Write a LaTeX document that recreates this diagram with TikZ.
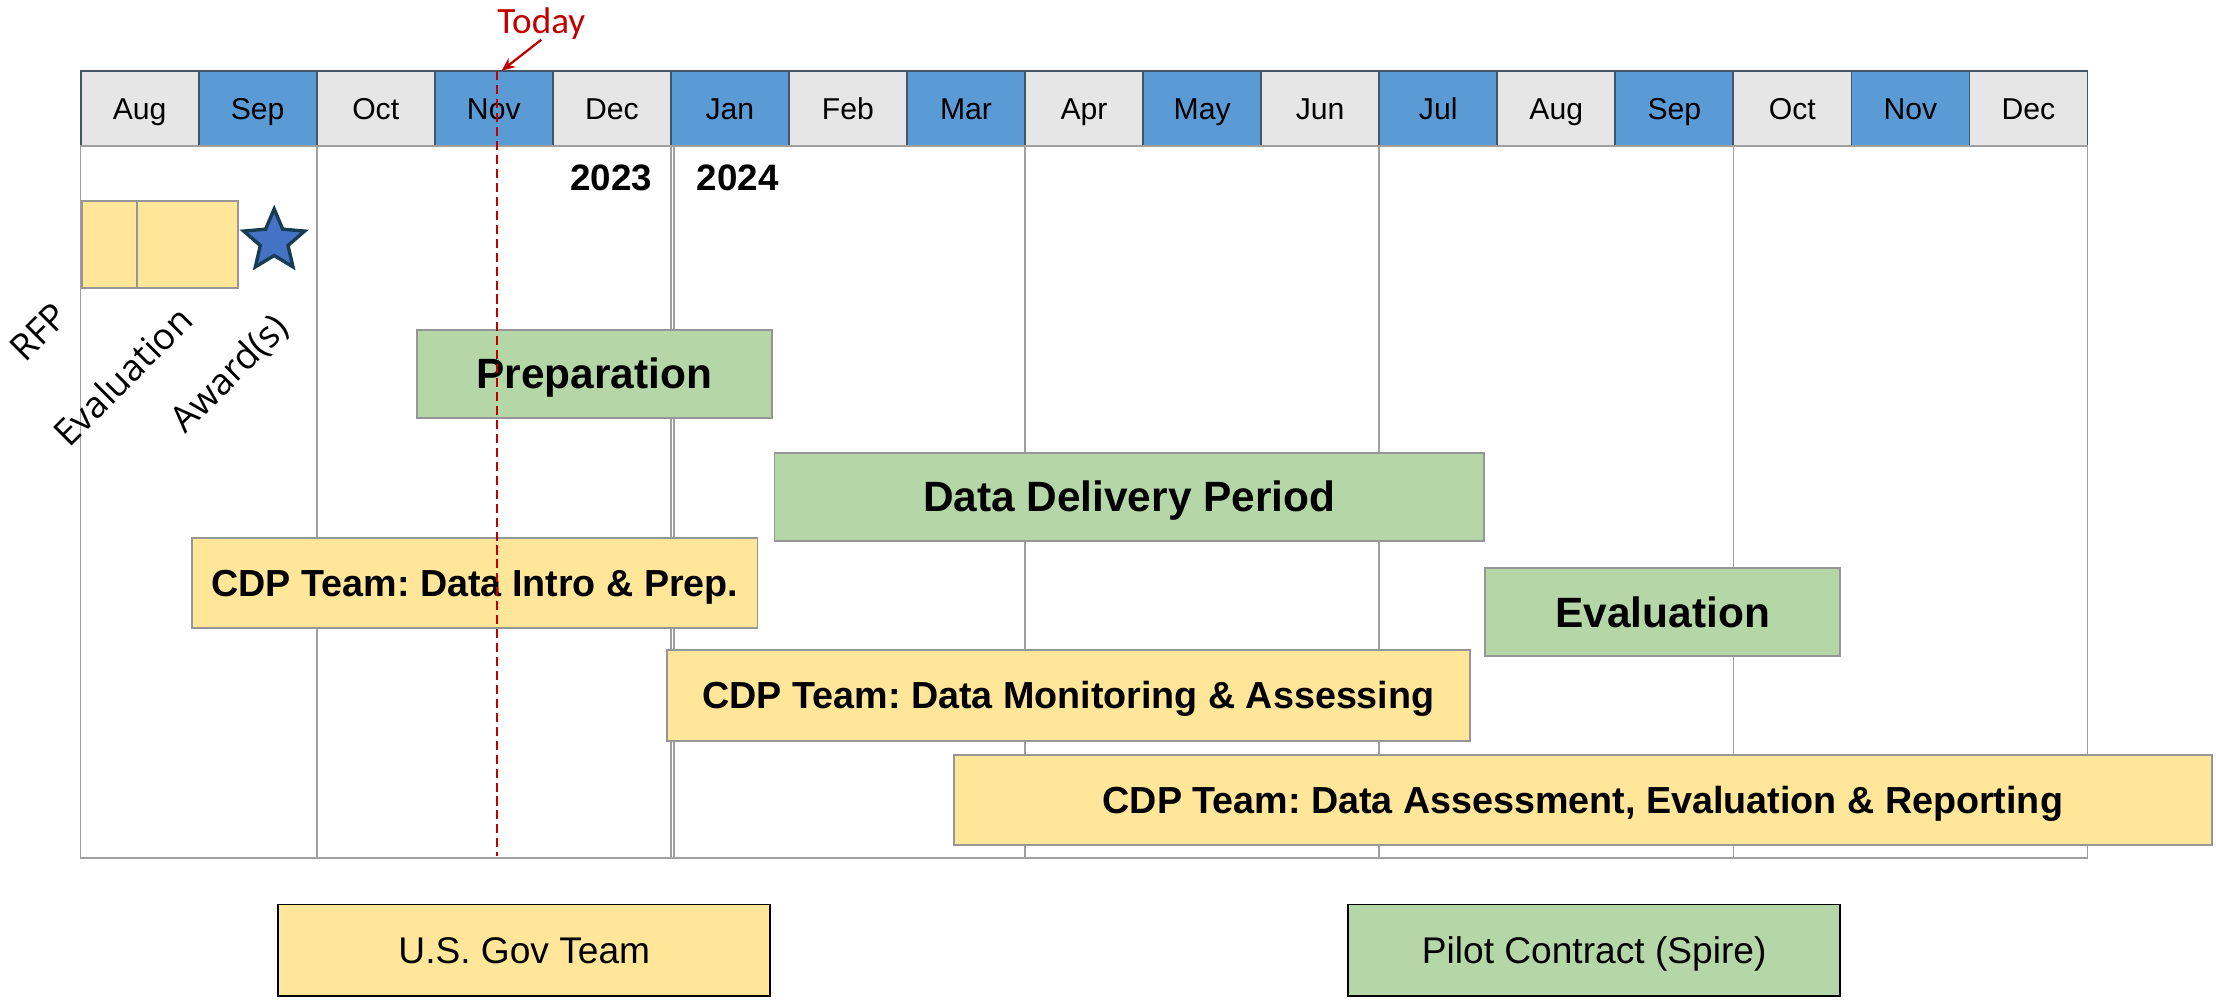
\documentclass[tikz,border=0pt]{standalone}
\usepackage{fontspec}
\setmainfont{Liberation Sans}
\newfontfamily\calibrifont{Carlito}
\newfontfamily\opensansfont{Open Sans}
\usetikzlibrary{positioning,shapes.geometric,arrows.meta}
\frenchspacing

\definecolor{monthgray}{RGB}{231,230,230}
\definecolor{monthblue}{RGB}{91,155,213}
\definecolor{headline}{RGB}{68,84,106}
\definecolor{gridgray}{RGB}{160,160,160}
\definecolor{bargray}{RGB}{150,150,150}
\definecolor{govyellow}{RGB}{255,230,153}
\definecolor{pilotgreen}{RGB}{181,215,168}
\definecolor{todayred}{RGB}{192,0,0}
\definecolor{starblue}{RGB}{68,114,196}
\definecolor{stardark}{RGB}{24,60,82}

\tikzset{
  monthcell/.style={draw=headline, line width=1pt, outer sep=0pt, inner sep=0pt,
    minimum width=62.65pt, minimum height=39.75pt, text height=11.5pt, text depth=0pt,
    font=\fontsize{16}{19}\selectfont},
  grayhead/.style={monthcell, fill=monthgray},
  bluehead/.style={monthcell, fill=monthblue},
  gridline/.style={draw=gridgray, line width=0.9pt},
  phase/.style={draw=bargray, line width=1pt, fill=pilotgreen, inner sep=0pt,
    minimum height=46.5pt, text height=16.1pt, text depth=0pt,
    font=\fontsize{22.5}{27}\selectfont\bfseries},
  team/.style={draw=bargray, line width=1pt, fill=govyellow, inner sep=0pt,
    minimum height=48pt, text height=14.3pt, text depth=0pt,
    font=\fontsize{20}{24}\selectfont\bfseries},
  legendbox/.style={draw=black, line width=1pt, inner sep=0pt,
    minimum width=261pt, minimum height=48.75pt, text height=14.1pt, text depth=0pt,
    font=\fontsize{19.7}{23}\selectfont},
  yearlabel/.style={inner sep=0pt, font=\fontsize{19.5}{23}\selectfont\bfseries},
  slant/.style={rotate=45, inner sep=0pt, font=\opensansfont\fontsize{19.4}{23}\selectfont},
}

\begin{document}
\begin{tikzpicture}[x=0.75pt,y=0.75pt,yscale=-1,xscale=1]
\useasboundingbox (0,0) rectangle (1568,708);

% month header, Aug 2023 to Dec 2024
\node[grayhead] (aug1) at (98.8,77) {Aug};
\node[bluehead, right=0pt of aug1] (sep1) {Sep};
\node[grayhead, right=0pt of sep1] (oct1) {Oct};
\node[bluehead, right=0pt of oct1] (nov1) {Nov};
\node[grayhead, right=0pt of nov1] (dec1) {Dec};
\node[bluehead, right=0pt of dec1] (jan) {Jan};
\node[grayhead, right=0pt of jan] (feb) {Feb};
\node[bluehead, right=0pt of feb] (mar) {Mar};
\node[grayhead, right=0pt of mar] (apr) {Apr};
\node[bluehead, right=0pt of apr] (may) {May};
\node[grayhead, right=0pt of may] (jun) {Jun};
\node[bluehead, right=0pt of jun] (jul) {Jul};
\node[grayhead, right=0pt of jul] (aug2) {Aug};
\node[bluehead, right=0pt of aug2] (sep2) {Sep};
\node[grayhead, right=0pt of sep2] (oct2) {Oct};
\node[bluehead, right=0pt of oct2] (nov2) {Nov};
\node[grayhead, right=0pt of nov2] (dec2) {Dec};

% chart body and quarter lines
\coordinate (base) at (57,607);
\draw[gridline] (aug1.south west) rectangle (dec2.south east |- base);
\draw[gridline] (oct1.south west) -- (oct1.south west |- base);
\draw[gridline] (jan.south west) -- (jan.south west |- base);
\draw[gridline] ([xshift=1.65pt]jan.south west) -- ([xshift=1.65pt]jan.south west |- base);
\draw[gridline] (apr.south west) -- (apr.south west |- base);
\draw[gridline] (jul.south west) -- (jul.south west |- base);
\draw[gridline] (oct2.south west) -- (oct2.south west |- base);

% year marks
\node[yearlabel] (y2023) at (432.5,126) {2023};
\node[yearlabel] (y2024) at (522,126) {2024};

% procurement steps
\node[draw=bargray, line width=1pt, fill=govyellow, outer sep=0pt, minimum width=29.25pt, minimum height=46.2pt] (rfp) at (77.25,172.8) {};
\node[draw=bargray, line width=1pt, fill=govyellow, outer sep=0pt, minimum width=53.6pt, minimum height=46.2pt, right=0pt of rfp] (evalstep) {};
\node[star, star points=5, star point ratio=2.2, draw=stardark, fill=starblue, line width=1.8pt, inner sep=0pt, minimum size=34pt] (award) at (194,170.5) {};
\node[slant] (rfptext) at (27.5,235) {RFP};
\node[slant] (evaltext) at (86.7,266) {Evaluation};
\node[slant] (awardtext) at (162.8,265) {Award(s)};

% pilot phases
\node[phase, minimum width=188.25pt] (prep) at (420.5,264.5) {Preparation};
\node[phase, minimum width=376.5pt] (delivery) at (799,351.5) {Data Delivery Period};
\node[phase, minimum width=188.25pt] (evaluation) at (1176.5,433) {Evaluation};

% CDP team work
\node[team, minimum width=300pt] (intro) at (336,412.5) {CDP Team: Data Intro \& Prep.};
\node[team, minimum width=426pt] (monitor) at (756,492) {CDP Team: Data Monitoring \& Assessing};
\node[team, minimum width=667.5pt] (report) at (1120,566) {CDP Team: Data Assessment, Evaluation \& Reporting};

% today marker
\coordinate (nowtop) at (351.4,50.5);
\coordinate (nowbot) at (351.4,606);
\coordinate (nowtip) at (355,50);
\draw[todayred, line width=1pt, dash pattern=on 4.8pt off 2.6pt] (nowtop) -- (nowbot);
\node[text=todayred, inner sep=0pt, anchor=base, font=\calibrifont\fontsize{19.7}{23}\selectfont] (today) at (383,23.6) {Today};
\draw[todayred, line width=1.2pt, -{Stealth[length=7pt,width=6pt]}] (today.south) -- (nowtip);

% legend
\node[legendbox, fill=govyellow] (govkey) at (371,672.5) {U.S. Gov Team};
\node[legendbox, fill=pilotgreen] (pilotkey) at (1128,672.5) {Pilot Contract (Spire)};

\end{tikzpicture}
\end{document}
